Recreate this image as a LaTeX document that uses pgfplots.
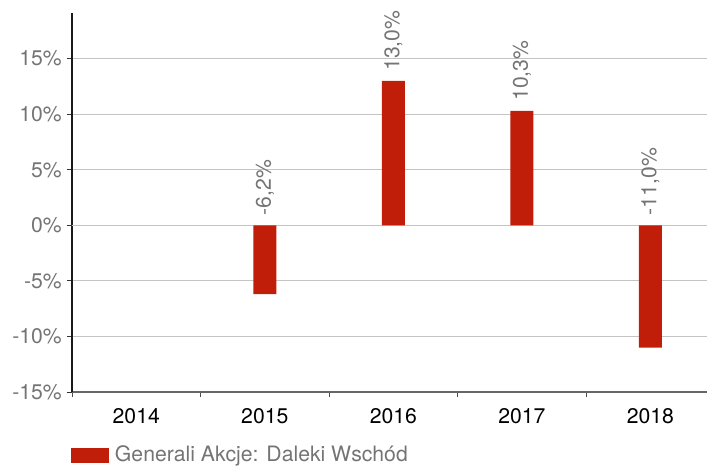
\documentclass[border=0pt]{standalone}
\usepackage{pgfplots}
\pgfplotsset{compat=1.18}
\usepackage{fontspec}
\setmainfont{TeX Gyre Heros}
\definecolor{barred}{HTML}{C11E0A}
\definecolor{labgray}{HTML}{747474}
\definecolor{gridgray}{HTML}{C4C4C4}
\newcommand{\cf}{\fontsize{21.2bp}{25bp}\selectfont}
\begin{document}
\cf
\begin{tikzpicture}
\path[use as bounding box] (0,0) rectangle (707bp,466bp);
\begin{axis}[
  at={(72bp,74bp)}, anchor=south west,
  scale only axis, width=635bp, height=379bp,
  xmin=-0.5, xmax=4.44, ymin=-15, ymax=19.1,
  axis x line*=bottom, axis y line*=left,
  x axis line style={color=black!60, line width=1.6bp},
  y axis line style={color=black!90, line width=1.1bp},
  xtick={0,1,2,3,4},
  xticklabels={2014,2015,2016,2017,2018},
  minor xtick={-0.5,0.5,1.5,2.5,3.5},
  every major x tick/.style={draw=none},
  every minor x tick/.style={color=black!70, line width=0.8bp},
  minor tick length=5bp, major tick length=5bp,
  tick align=outside,
  ytick={-15,-10,-5,0,5,10,15},
  yticklabels={-15\%,-10\%,-5\%,0\%,5\%,10\%,15\%},
  every major y tick/.style={color=black!80, line width=0.8bp},
  ymajorgrids,
  major grid style={color=gridgray, line width=0.9bp},
  extra y ticks={0},
  extra y tick labels={},
  extra y tick style={grid style={color=black!75, line width=0.9bp}},
  yticklabel style={text=labgray, font=\cf, inner sep=0pt, xshift=-5bp},
  xticklabel style={text=black, font=\cf, yshift=-4bp},
  clip=false,
  legend style={at={(axis description cs:-0.0016,-0.1675)}, anchor=west,
    draw=none, fill=none, inner sep=0pt, outer sep=0pt,
    nodes={inner sep=0pt, text=labgray, font=\cf}},
  legend image code/.code={\fill[barred] (0bp,-7.5bp) rectangle (38bp,7.5bp); \path (44bp,0bp);},
]
\addplot[ybar, bar width=23bp, fill=barred, draw=none, bar shift=0pt]
  coordinates {(1,-6.2) (2,13.0) (3,10.3) (4,-11.0)};
\addlegendentry{Generali Akcje: Daleki Wschód}
\addplot[draw=none, mark=none, forget plot,
  nodes near coords, point meta=explicit symbolic,
  every node near coord/.append style={rotate=90, anchor=west, inner xsep=10bp, inner ysep=0pt,
    text=labgray, font=\cf}]
  coordinates {(1,0) [-6,2\%] (2,13.0) [13,0\%] (3,10.3) [10,3\%] (4,0) [-11,0\%]};
\end{axis}
\end{tikzpicture}
\end{document}
